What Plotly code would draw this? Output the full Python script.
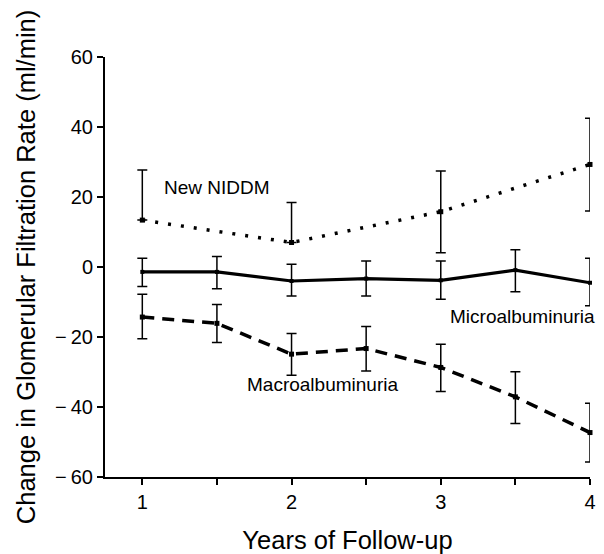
import plotly.graph_objects as go

years = [1, 1.5, 2, 2.5, 3, 3.5, 4]
niddm_years = [1, 2, 3, 4]

niddm_mean = [13.4, 7.0, 15.8, 29.3]
niddm_upper = [27.7, 18.4, 27.4, 42.5]
niddm_lower = [13.4, 7.0, 4.1, 16.0]

micro_mean = [-1.4, -1.4, -4.0, -3.3, -3.8, -0.9, -4.5]
micro_upper = [2.5, 3.0, 0.8, 1.7, 1.7, 4.9, 2.5]
micro_lower = [-5.6, -6.2, -8.3, -8.3, -9.2, -7.1, -11.1]

macro_mean = [-14.3, -16.1, -24.9, -23.3, -28.7, -37.1, -47.3]
macro_upper = [-7.8, -10.7, -19.0, -17.0, -22.1, -29.9, -38.9]
macro_lower = [-20.5, -21.6, -30.9, -29.7, -35.6, -44.7, -55.7]

y_ticks = [-60, -40, -20, 0, 20, 40, 60]
y_ticktext = ["\u2212\u200960", "\u2212\u200940", "\u2212\u200920", "0", "20", "40", "60"]
x_ticks = [1, 1.5, 2, 2.5, 3, 3.5, 4]
x_ticktext = ["1", "", "2", "", "3", "", "4"]

FONT = "Liberation Sans, Arial, sans-serif"


def err(mean, upper, lower, thick=1.5):
    return dict(type="data", symmetric=False,
                array=[u - m for u, m in zip(upper, mean)],
                arrayminus=[m - l for m, l in zip(mean, lower)],
                color="black", thickness=thick, width=5)


fig = go.Figure()
fig.add_trace(go.Scatter(x=niddm_years, y=niddm_mean, mode="lines+markers",
                         line=dict(color="black", width=3.5, dash="3px,10px"),
                         marker=dict(color="black", size=5, symbol="square"),
                         error_y=err(niddm_mean, niddm_upper, niddm_lower),
                         cliponaxis=False, showlegend=False))
fig.add_trace(go.Scatter(x=years, y=micro_mean, mode="lines+markers",
                         line=dict(color="black", width=3.2),
                         marker=dict(color="black", size=4, symbol="square"),
                         error_y=err(micro_mean, micro_upper, micro_lower),
                         cliponaxis=False, showlegend=False))
fig.add_trace(go.Scatter(x=years, y=macro_mean, mode="lines+markers",
                         line=dict(color="black", width=3.5, dash="12px,8px"),
                         marker=dict(color="black", size=5, symbol="square"),
                         error_y=err(macro_mean, macro_upper, macro_lower),
                         cliponaxis=False, showlegend=False))

fig.add_annotation(x=1.13, y=22.8, text="New NIDDM", showarrow=False,
                   xanchor="left", yanchor="middle",
                   font=dict(family=FONT, size=19, color="black"))
fig.add_annotation(xref="paper", x=1.014, y=-14.0, text="Microalbuminuria",
                   showarrow=False, xanchor="right", yanchor="middle",
                   font=dict(family=FONT, size=19, color="black"))
fig.add_annotation(x=1.69, y=-33.5, text="Macroalbuminuria", showarrow=False,
                   xanchor="left", yanchor="middle",
                   font=dict(family=FONT, size=19, color="black"))

fig.update_layout(
    width=604, height=554,
    margin=dict(l=105, r=14, t=57, b=77, autoexpand=False),
    paper_bgcolor="white", plot_bgcolor="white",
    font=dict(family=FONT, color="black", size=20),
    xaxis=dict(range=[0.75, 4.0], tickvals=x_ticks, ticktext=x_ticktext,
               ticks="outside", ticklen=6, tickwidth=2, tickcolor="black",
               showline=True, linecolor="black", linewidth=2,
               showgrid=False, zeroline=False, automargin=False,
               tickfont=dict(size=20),
               title=dict(text="Years of Follow-up", font=dict(size=25.5), standoff=26)),
    yaxis=dict(range=[-60, 60], tickvals=y_ticks, ticktext=y_ticktext,
               ticks="outside", ticklen=6, tickwidth=2, tickcolor="black",
               showline=True, linecolor="black", linewidth=2,
               showgrid=False, zeroline=False, automargin=False,
               tickfont=dict(size=20),
               title=dict(text="Change in Glomerular Filtration Rate (ml/min)",
                          font=dict(size=25.5), standoff=12)),
)

fig.write_html("out.html", config={"displayModeBar": False},
               post_script="document.body.style.margin='0';document.body.style.padding='0';")
